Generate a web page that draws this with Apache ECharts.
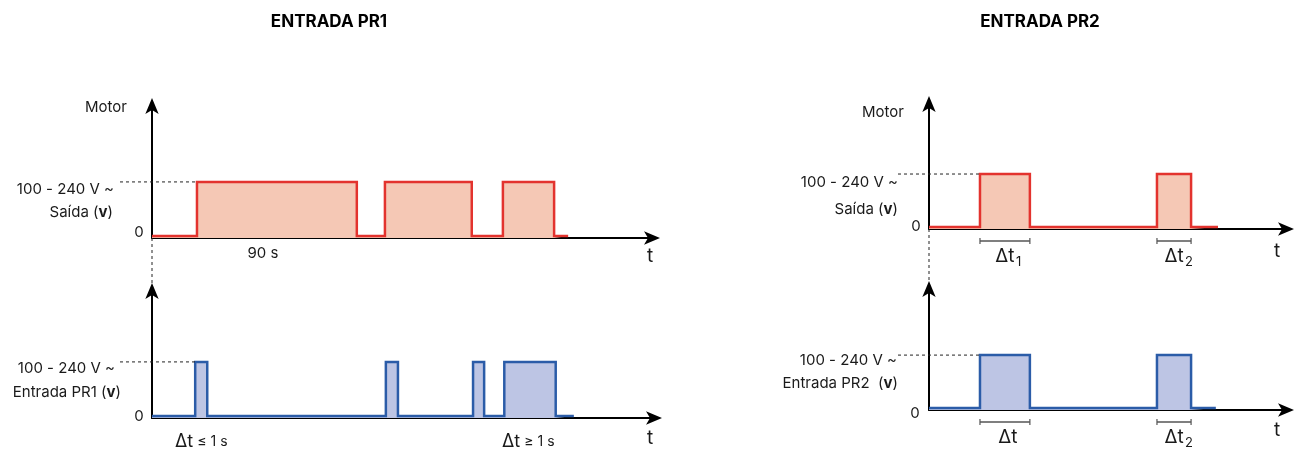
<!DOCTYPE html>
<html><head><meta charset="utf-8">
<script src="https://cdn.jsdelivr.net/npm/echarts@6/dist/echarts.min.js"></script>
<style>html,body{margin:0;padding:0;background:#fff}#c{width:1298px;height:454px}</style>
</head><body><div id="c"></div>
<script>
// Time in arbitrary units (0..100 per panel); level 1 = 100-240 V ~, 0 = off
const pr1MotorEdges  = [0, 8.96, 40.8, 46.4, 63.7, 69.9, 80.1, 82.9];
const pr1MotorLevels = [0, 1, 0, 1, 0, 1, 0];
const pr1InputEdges  = [0, 8.57, 10.96, 46.4, 48.8, 63.7, 65.9, 69.9, 80.1, 83.7];
const pr1InputLevels = [0, 1, 0, 1, 0, 1, 0, 1, 0];
const pr2MotorEdges  = [0, 14.2, 28.1, 63.5, 73.0, 80.5];
const pr2MotorLevels = [0, 1, 0, 1, 0];
const pr2InputEdges  = [0, 14.2, 28.1, 63.5, 73.0, 79.9];
const pr2InputLevels = [0, 1, 0, 1, 0];
const pr2MotorBrackets = [[14.2, 28.1, '1'], [63.5, 73.0, '2']];
const pr2InputBrackets = [[14.2, 28.1, ''], [63.5, 73.0, '2']];
const titles = ['ENTRADA PR1', 'ENTRADA PR2'];
const levelLabel = '100 - 240 V ~';

const FONT = 'Inter, "Noto Sans", sans-serif';
const RED = '#E3332E', RED_FILL = '#F5C8B5', BLUE = '#2B5CA8', BLUE_FILL = '#BDC5E4';
const LOW = 0.035;

function steps(edges, levels) {
  const d = [];
  for (let i = 0; i < levels.length; i++) {
    const v = levels[i] ? 1 : LOW;
    d.push([edges[i], v], [edges[i + 1], v]);
  }
  return d;
}

const grids = [
  {left: 152, top: 104, width: 502, height: 134},
  {left: 152, top: 289, width: 504, height: 129},
  {left: 929, top: 102, width: 359, height: 127},
  {left: 929, top: 287, width: 359, height: 123}
];
const yMax = [2.39, 2.30, 2.31, 2.24];

const axisLine = {show: true, symbol: ['none', 'arrow'], symbolSize: [10, 16], symbolOffset: [0, 6],
  lineStyle: {color: '#000', width: 2}};

const chart = echarts.init(document.getElementById('c'), null, {renderer: 'canvas'});
const sers = [
  [pr1MotorEdges, pr1MotorLevels, RED, RED_FILL],
  [pr1InputEdges, pr1InputLevels, BLUE, BLUE_FILL],
  [pr2MotorEdges, pr2MotorLevels, RED, RED_FILL],
  [pr2InputEdges, pr2InputLevels, BLUE, BLUE_FILL]
];
chart.setOption({
  animation: false,
  grid: grids.map(g => Object.assign({containLabel: false}, g)),
  xAxis: grids.map((g, i) => ({type: 'value', gridIndex: i, min: 0, max: 100, axisLine,
    axisTick: {show: false}, axisLabel: {show: false}, splitLine: {show: false}})),
  yAxis: grids.map((g, i) => ({type: 'value', gridIndex: i, min: 0, max: yMax[i], axisLine,
    axisTick: {show: false}, axisLabel: {show: false}, splitLine: {show: false}})),
  series: sers.map((s, i) => ({
    type: 'line', xAxisIndex: i, yAxisIndex: i, data: steps(s[0], s[1]),
    showSymbol: false, symbol: 'none', z: 3,
    lineStyle: {color: s[2], width: 2.5, join: 'miter'},
    areaStyle: {color: s[3], opacity: 1, origin: 'start'}
  }))
});

const G = [];
const px = (gi, x, y) => chart.convertToPixel({gridIndex: gi}, [x, y]);
const FS = 15;
function text(x, y, t, o) {
  G.push({type: 'text', x, y, z: 10, style: Object.assign({text: t, fill: '#1a1a1a', fontSize: FS,
    fontFamily: FONT, align: 'center', verticalAlign: 'middle'}, o || {})});
}
function line(x1, y1, x2, y2, st) {
  G.push({type: 'line', z: 10, shape: {x1, y1, x2, y2}, style: Object.assign({stroke: '#222', lineWidth: 1}, st || {})});
}
const dash = {lineDash: [3, 3], stroke: '#222', lineWidth: 1};
const richV = {b: {fontWeight: 'bold', fontSize: FS, fontFamily: FONT, fill: '#1a1a1a'}};
const richDt = {d: {fontSize: 18, fontFamily: FONT, fill: '#1a1a1a'}, s: {fontSize: 14, fontFamily: FONT, fill: '#1a1a1a'}};

// titles
text(329, 22, titles[0], {fontWeight: 'bold', fontSize: 17, fill: '#000'});
text(1040, 22, titles[1], {fontWeight: 'bold', fontSize: 17, fill: '#000'});

// ---- PR1 panels ----
{
  const o0 = px(0, 0, 0), h0 = px(0, pr1MotorEdges[1], 1);
  text(106, 107, 'Motor');
  text(114, 189, levelLabel, {align: 'right'});
  text(113, 212, 'Saída ({b|v})', {align: 'right', rich: richV});
  text(139, o0[1] - 6, '0');
  line(120, h0[1], h0[0], h0[1], dash);
  text(263, 253, '90 s');
  text(650, 256, 't', {fontSize: 19});
  const o1 = px(1, 0, 0), h1 = px(1, pr1InputEdges[1], 1), top1 = px(1, 0, yMax[1]);
  line(o0[0], o0[1], o0[0], top1[1] - 4, dash);
  text(115, 368, levelLabel, {align: 'right'});
  text(121, 392, 'Entrada PR1 ({b|v})', {align: 'right', rich: richV});
  text(139, o1[1] - 2, '0');
  line(120, h1[1], h1[0], h1[1], dash);
  text(175, 442, '{d|Δt} {s|≤ 1 s}', {align: 'left', rich: richDt});
  text(502, 442, '{d|Δt} {s|≥ 1 s}', {align: 'left', rich: richDt});
  text(650, 438, 't', {fontSize: 19});
}

// ---- PR2 panels ----
function brackets(gi, list) {
  list.forEach(b => {
    const a = px(gi, b[0], 0), c = px(gi, b[1], 0);
    const y = a[1] + 12;
    line(a[0], y, c[0], y, {stroke: '#555', lineWidth: 1.5});
    line(a[0], y - 3, a[0], y + 3, {stroke: '#555', lineWidth: 1.2});
    line(c[0], y - 3, c[0], y + 3, {stroke: '#555', lineWidth: 1.2});
    const cx = (a[0] + c[0]) / 2 + 3;
    text(cx + (b[2] ? -3 : 0), y + 15, 'Δt', {fontSize: 19});
    if (b[2]) text(cx + 8, y + 21, b[2], {fontSize: 13, align: 'left'});
  });
}
{
  const o2 = px(2, 0, 0), h2 = px(2, pr2MotorEdges[1], 1);
  text(883, 112, 'Motor');
  text(898, 182, levelLabel, {align: 'right'});
  text(898, 209, 'Saída ({b|v})', {align: 'right', rich: richV});
  text(916, o2[1] - 3, '0');
  line(898, h2[1], h2[0], h2[1], dash);
  text(1277, 251, 't', {fontSize: 19});
  brackets(2, pr2MotorBrackets);
  const o3 = px(3, 0, 0), h3 = px(3, pr2InputEdges[1], 1), top3 = px(3, 0, yMax[3]);
  line(o2[0], o2[1], o2[0], top3[1] - 4, dash);
  text(897, 360, levelLabel, {align: 'right'});
  text(898, 383, 'Entrada PR2  ({b|v})', {align: 'right', rich: richV});
  text(915, o3[1] + 3, '0');
  line(898, h3[1], h3[0], h3[1], dash);
  text(1277, 430, 't', {fontSize: 19});
  brackets(3, pr2InputBrackets);
}
chart.setOption({graphic: G});
</script>
</body></html>
